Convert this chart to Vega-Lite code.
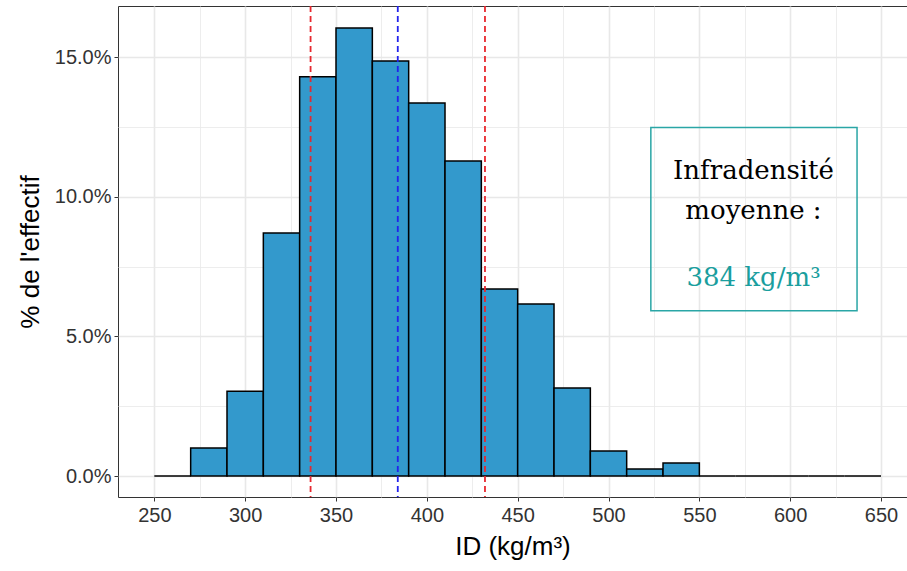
{
  "$schema": "https://vega.github.io/schema/vega-lite/v6.json",
  "width": 789,
  "height": 491,
  "autosize": {"type": "none"},
  "padding": {"left": 118, "top": 6, "right": 0, "bottom": 74},
  "background": "white",
  "config": {
    "view": {"stroke": "#333333", "strokeWidth": 1},
    "font": "Liberation Sans"
  },
  "datasets": {
    "bins": [
      {"bin_start": 250, "bin_end": 270, "pct": 0},
      {"bin_start": 270, "bin_end": 290, "pct": 1.0},
      {"bin_start": 290, "bin_end": 310, "pct": 3.04},
      {"bin_start": 310, "bin_end": 330, "pct": 8.7},
      {"bin_start": 330, "bin_end": 350, "pct": 14.3},
      {"bin_start": 350, "bin_end": 370, "pct": 16.04},
      {"bin_start": 370, "bin_end": 390, "pct": 14.86},
      {"bin_start": 390, "bin_end": 410, "pct": 13.36},
      {"bin_start": 410, "bin_end": 430, "pct": 11.28},
      {"bin_start": 430, "bin_end": 450, "pct": 6.7},
      {"bin_start": 450, "bin_end": 470, "pct": 6.16},
      {"bin_start": 470, "bin_end": 490, "pct": 3.15},
      {"bin_start": 490, "bin_end": 510, "pct": 0.9},
      {"bin_start": 510, "bin_end": 530, "pct": 0.25},
      {"bin_start": 530, "bin_end": 550, "pct": 0.47},
      {"bin_start": 550, "bin_end": 570, "pct": 0},
      {"bin_start": 570, "bin_end": 590, "pct": 0},
      {"bin_start": 590, "bin_end": 610, "pct": 0},
      {"bin_start": 610, "bin_end": 630, "pct": 0},
      {"bin_start": 630, "bin_end": 650, "pct": 0}
    ],
    "sdlines": [{"v": 336}, {"v": 432}],
    "meanline": [{"v": 384}],
    "box": [{"x1": 523.3, "x2": 636.8, "y1": 12.48, "y2": 5.92}],
    "labels": [
      {"x": 579.8, "y": 10.62, "t": "Infradensité"},
      {"x": 579.8, "y": 9.2, "t": "moyenne :"}
    ],
    "value": [{"x": 579.8, "y": 6.81, "t": "384 kg/m³"}]
  },
  "layer": [
    {
      "data": {"name": "bins"},
      "mark": {"type": "bar", "fill": "#3399cc", "stroke": "black", "strokeWidth": 1.5},
      "encoding": {
        "x": {
          "field": "bin_start",
          "type": "quantitative",
          "scale": {"domain": [230, 664.3], "nice": false, "zero": false},
          "axis": {
            "values": [250, 275, 300, 325, 350, 375, 400, 425, 450, 475, 500, 525, 550, 575, 600, 625, 650],
            "labelExpr": "datum.value % 50 === 0 ? datum.label : ''",
            "labelFontSize": 20,
            "labelColor": "#333333",
            "labelPadding": 4,
            "tickColor": "#333333",
            "tickSize": 4,
            "tickOpacity": {"condition": {"test": "datum.value % 50 !== 0", "value": 0}, "value": 1},
            "gridColor": "#e8e8e8",
            "gridWidth": {"condition": {"test": "datum.value % 50 === 0", "value": 1.6}, "value": 0.8},
            "domain": false,
            "title": "ID (kg/m³)",
            "titleFontSize": 26,
            "titleFontWeight": "normal",
            "titleColor": "black",
            "titlePadding": 8
          }
        },
        "x2": {"field": "bin_end"},
        "y": {
          "field": "pct",
          "type": "quantitative",
          "scale": {"domain": [-0.75, 16.83], "nice": false, "zero": false},
          "axis": {
            "values": [0, 2.5, 5, 7.5, 10, 12.5, 15],
            "labelExpr": "datum.value % 5 === 0 ? format(datum.value, '.1f') + '%' : ''",
            "labelFontSize": 20,
            "labelColor": "#333333",
            "labelPadding": 3,
            "tickColor": "#333333",
            "tickSize": 4,
            "tickOpacity": {"condition": {"test": "datum.value % 5 !== 0", "value": 0}, "value": 1},
            "gridColor": "#e8e8e8",
            "gridWidth": {"condition": {"test": "datum.value % 5 === 0", "value": 1.6}, "value": 0.8},
            "domain": false,
            "title": "% de l'effectif",
            "titleFontSize": 26,
            "titleFontWeight": "normal",
            "titleColor": "black",
            "titlePadding": 11
          }
        },
        "y2": {"datum": 0}
      }
    },
    {
      "data": {"name": "sdlines"},
      "mark": {"type": "rule", "color": "#e8282e", "strokeWidth": 1.8, "strokeDash": [6, 4]},
      "encoding": {"x": {"field": "v", "type": "quantitative"}}
    },
    {
      "data": {"name": "meanline"},
      "mark": {"type": "rule", "color": "#2222ee", "strokeWidth": 1.8, "strokeDash": [6, 4]},
      "encoding": {"x": {"field": "v", "type": "quantitative"}}
    },
    {
      "data": {"name": "box"},
      "mark": {"type": "rect", "fill": null, "stroke": "#2aa6a6", "strokeWidth": 1.5},
      "encoding": {
        "x": {"field": "x1", "type": "quantitative"},
        "x2": {"field": "x2"},
        "y": {"field": "y1", "type": "quantitative"},
        "y2": {"field": "y2"}
      }
    },
    {
      "data": {"name": "labels"},
      "mark": {"type": "text", "font": "DejaVu Serif", "fontSize": 26, "color": "black", "align": "center", "baseline": "alphabetic"},
      "encoding": {
        "x": {"field": "x", "type": "quantitative"},
        "y": {"field": "y", "type": "quantitative"},
        "text": {"field": "t"}
      }
    },
    {
      "data": {"name": "value"},
      "mark": {"type": "text", "font": "DejaVu Serif", "fontSize": 26, "color": "#1a9e9e", "align": "center", "baseline": "alphabetic"},
      "encoding": {
        "x": {"field": "x", "type": "quantitative"},
        "y": {"field": "y", "type": "quantitative"},
        "text": {"field": "t"}
      }
    }
  ]
}
